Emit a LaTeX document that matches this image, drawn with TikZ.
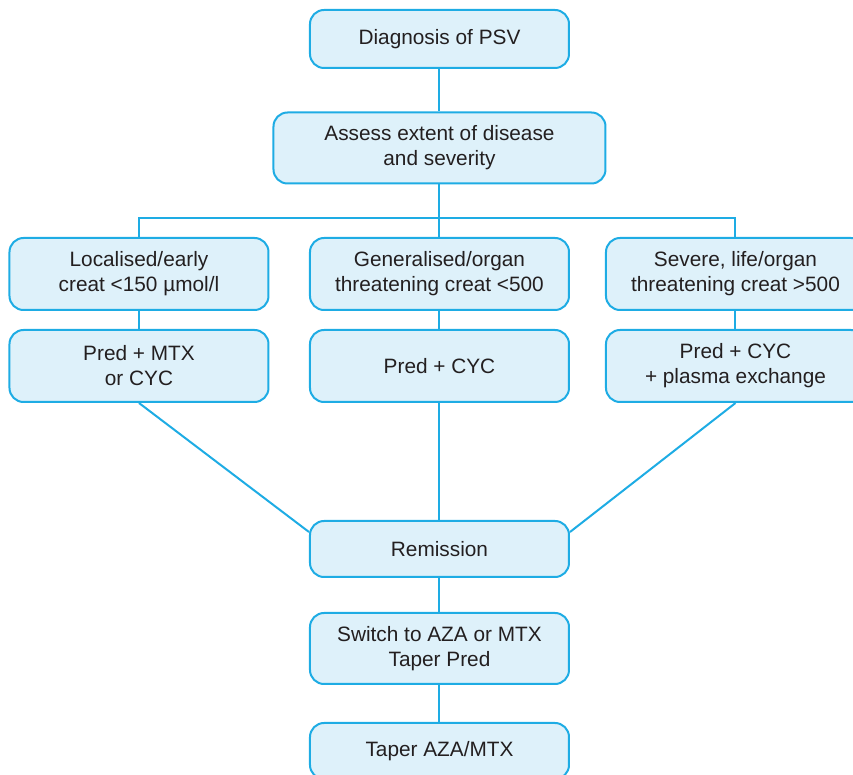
\documentclass[tikz,border=0pt]{standalone}
\usepackage{fontspec}
\setmainfont{Liberation Sans}
\usetikzlibrary{positioning}
\definecolor{psvline}{RGB}{30,172,228}
\definecolor{psvfill}{RGB}{222,241,250}
\definecolor{psvtext}{RGB}{35,31,32}

\begin{document}
\begin{tikzpicture}[node distance=46pt]
        \tikzstyle{stage}=[draw=psvline, fill=psvfill, line width=1pt, rectangle, rounded corners=7pt, align=center, text=psvtext, minimum width=129.5pt, minimum height=36pt, font=\fontsize{10.4}{12.5}\selectfont];
        \tikzstyle{link}=[draw=psvline, line width=1pt];
        \useasboundingbox (-219.75pt,19.5pt) rectangle (206.75pt,-368pt);
        \node[stage, minimum height=29pt] (diag) {Diagnosis of PSV};
        \node[stage, below of=diag, yshift=-8.5pt, minimum width=166pt, minimum height=35.5pt] (assess) {Assess extent of disease\\and severity};
        \node[stage, below of=assess, yshift=-17pt] (general) {Generalised/organ\\threatening creat <500};
        \node[stage, left of=general, xshift=-104.25pt] (local) {Localised/early\\creat <150 µmol/l};
        \node[stage, right of=general, xshift=102pt] (severe) {Severe, life/organ\\threatening creat >500};
        \node[stage, below of=local] (mtx) {Pred + MTX\\or CYC};
        \node[stage, below of=general] (cyc) {Pred + CYC};
        \node[stage, below of=severe] (plasma) {Pred + CYC\\+ plasma exchange};
        \node[stage, below of=cyc, yshift=-45.5pt, minimum height=28pt] (remission) {Remission};
        \node[stage, below of=remission, yshift=-3.75pt, minimum height=35.5pt] (switch) {Switch to AZA or MTX\\Taper Pred};
        \node[stage, below of=switch, yshift=-5.25pt, minimum height=28pt] (taper) {Taper AZA/MTX};
        \coordinate (hub) at ([yshift=-35pt]assess.center);

        \draw[link] (assess) -- (hub);
        \draw[link] (local.north) |- (hub) -| (severe.north);
        \path[every edge/.style=link]
        (diag) edge (assess)
        (hub) edge (general)
        (local) edge (mtx)
        (general) edge (cyc)
        (severe) edge (plasma)
        (mtx.south) edge ([yshift=8.5pt]remission.west)
        (cyc) edge (remission)
        (plasma.south) edge ([yshift=8.5pt]remission.east)
        (remission) edge (switch)
        (switch) edge (taper);
      \end{tikzpicture}
\end{document}
